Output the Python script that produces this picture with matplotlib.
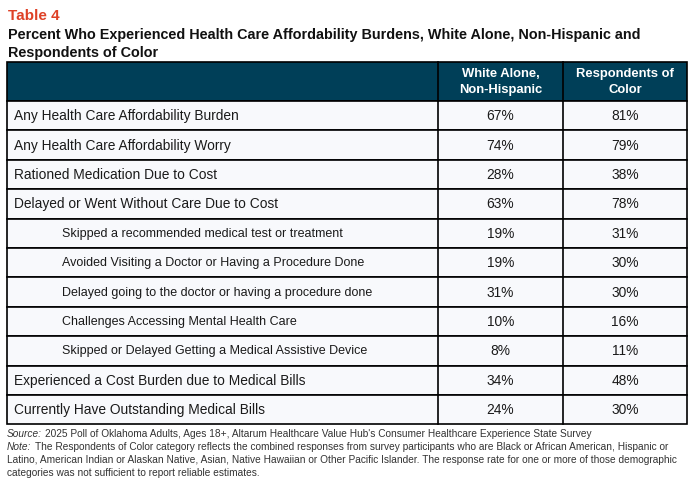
import matplotlib.pyplot as plt
from matplotlib.patches import Rectangle

# table content
rows = [
    "Any Health Care Affordability Burden",
    "Any Health Care Affordability Worry",
    "Rationed Medication Due to Cost",
    "Delayed or Went Without Care Due to Cost",
    "Skipped a recommended medical test or treatment",
    "Avoided Visiting a Doctor or Having a Procedure Done",
    "Delayed going to the doctor or having a procedure done",
    "Challenges Accessing Mental Health Care",
    "Skipped or Delayed Getting a Medical Assistive Device",
    "Experienced a Cost Burden due to Medical Bills",
    "Currently Have Outstanding Medical Bills",
]
indented = [False, False, False, False, True, True, True, True, True, False, False]
white_alone = [67, 74, 28, 63, 19, 19, 31, 10, 8, 34, 24]
people_of_color = [81, 79, 38, 78, 31, 30, 30, 16, 11, 48, 30]
col_headers = ["White Alone,\nNon-Hispanic", "Respondents of\nColor"]

FONT = ["Liberation Sans", "DejaVu Sans"]
HEADER_BG = "#003F58"
ROW_BG = "#F8F9FC"
TITLE_RED = "#DE4126"

fig = plt.figure(figsize=(6.96, 4.83), dpi=100)
ax = fig.add_axes([0, 0, 1, 1])
ax.set_xlim(0, 696)
ax.set_ylim(483, 0)
ax.axis("off")

# layout (pixels)
x0, x1, x2, x3 = 7, 438, 563, 687
top, head_h, row_h = 62, 39, 29.4

# titles
ax.text(8, 16, "Table 4", color=TITLE_RED, fontsize=11, fontweight="bold",
        family=FONT, va="center")
ax.text(8, 34.5, "Percent Who Experienced Health Care Affordability Burdens, White Alone, Non-Hispanic and",
        fontsize=10.4, fontweight="bold", family=FONT, va="center", color="#111111")
ax.text(8, 52.5, "Respondents of Color", fontsize=10.4, fontweight="bold", family=FONT,
        va="center", color="#111111")

# header
ax.add_patch(Rectangle((x0, top), x3 - x0, head_h, facecolor=HEADER_BG,
                       edgecolor="black", lw=1.2))
for (a, b), h in zip([(x1, x2), (x2, x3)], col_headers):
    ax.text((a + b) / 2, top + head_h / 2 + 0.5, h, color="white", fontsize=9.4,
            fontweight="bold", family=FONT, ha="center", va="center",
            linespacing=1.35)
ax.plot([x1, x1], [top, top + head_h], color="black", lw=1.2)
ax.plot([x2, x2], [top, top + head_h], color="black", lw=1.2)

# body rows (sub-items are indented and a touch smaller)
body_top = top + head_h
for i, (lab, ind, w, c) in enumerate(zip(rows, indented, white_alone, people_of_color)):
    y = body_top + i * row_h
    ax.add_patch(Rectangle((x0, y), x3 - x0, row_h, facecolor=ROW_BG,
                           edgecolor="black", lw=1.2))
    yc = y + row_h / 2 + 0.5
    ax.text(62 if ind else 14, yc, lab, fontsize=9.0 if ind else 9.9, family=FONT,
            va="center", color="#1a1a1a")
    ax.text((x1 + x2) / 2, yc, f"{w}%", fontsize=9.9, family=FONT,
            ha="center", va="center", color="#1a1a1a")
    ax.text((x2 + x3) / 2, yc, f"{c}%", fontsize=9.9, family=FONT,
            ha="center", va="center", color="#1a1a1a")

body_bot = body_top + len(rows) * row_h
ax.plot([x1, x1], [body_top, body_bot], color="black", lw=1.2)
ax.plot([x2, x2], [body_top, body_bot], color="black", lw=1.2)

# footer notes
note_col = "#333333"
fs = 7.3
src = ax.text(7, 434, "Source:", fontsize=fs, family=FONT, style="italic",
              va="center", color=note_col)
ax.annotate("2025 Poll of Oklahoma Adults, Ages 18+, Altarum Healthcare Value Hub's "
            "Consumer Healthcare Experience State Survey",
            xy=(1, 0.5), xycoords=src, xytext=(2.5, 0), textcoords="offset points",
            fontsize=fs, family=FONT, va="center", color=note_col)
note = ax.text(7, 447, "Note:", fontsize=fs, family=FONT, style="italic",
               va="center", color=note_col)
ax.annotate("The Respondents of Color category reflects the combined responses from "
            "survey participants who are Black or African American, Hispanic or",
            xy=(1, 0.5), xycoords=note, xytext=(2.5, 0), textcoords="offset points",
            fontsize=fs, family=FONT, va="center", color=note_col)
ax.text(7, 460, "Latino, American Indian or Alaskan Native, Asian, Native Hawaiian or Other "
        "Pacific Islander. The response rate for one or more of those demographic",
        fontsize=fs, family=FONT, va="center", color=note_col)
ax.text(7, 472.5, "categories was not sufficient to report reliable estimates.",
        fontsize=fs, family=FONT, va="center", color=note_col)

fig.savefig("out.png", dpi=100)
